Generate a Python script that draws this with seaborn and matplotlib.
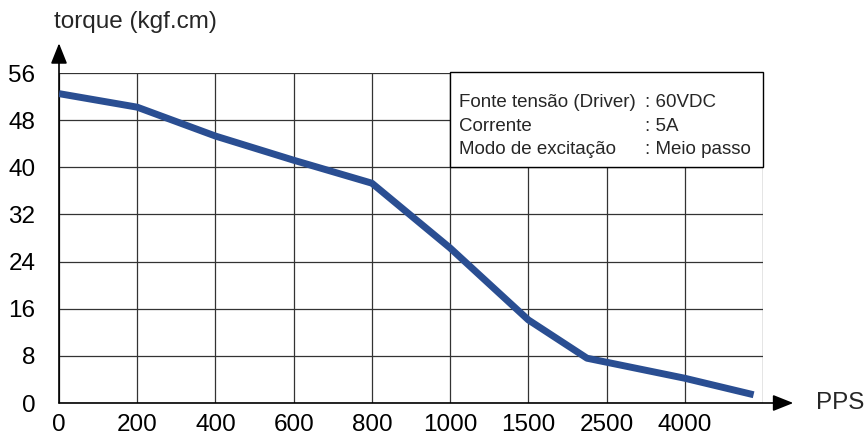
import matplotlib
matplotlib.use("Agg")
import matplotlib.pyplot as plt
from matplotlib.patches import Rectangle
import seaborn as sns

# dados (posição no eixo de categorias, torque)
x_pos = [0, 1, 2, 3, 4, 5, 6, 6.75, 8, 8.88]
torque = [52.5, 50.2, 45.3, 41.2, 37.3, 26.3, 14.1, 7.6, 4.2, 1.4]
pps_labels = ["0", "200", "400", "600", "800", "1000", "1500", "2500", "4000"]
y_ticks = [0, 8, 16, 24, 32, 40, 48, 56]
info_left = ["Fonte tensão (Driver)", "Corrente", "Modo de excitação"]
info_right = [": 60VDC", ": 5A", ": Meio passo"]

sns.set_style("white")
plt.rcParams['font.family'] = ['Liberation Sans', 'DejaVu Sans']

W, H = 865, 437
fig = plt.figure(figsize=(W / 100, H / 100), dpi=100)
ax = fig.add_axes([59 / W, (H - 403) / H, (763 - 59) / W, (403 - 73) / H])

sns.lineplot(x=x_pos, y=torque, ax=ax, color="#2a4e92", linewidth=5.0,
             zorder=5, solid_capstyle="butt")

ax.set_xlim(0, 9)
ax.set_ylim(0, 56)
ax.set_xticks(range(0, 9))
ax.set_xticklabels(pps_labels)
ax.set_yticks(y_ticks)
ax.tick_params(axis="both", which="both", length=0, labelsize=17.5, colors="black")
ax.tick_params(axis="y", pad=17)
ax.tick_params(axis="x", pad=8)
ax.grid(False)
for v in range(0, 10):
    ax.axvline(v, color="#333333", linewidth=0.9, zorder=1)
for v in y_ticks:
    ax.axhline(v, color="#333333", linewidth=0.9, zorder=1)
for s in ax.spines.values():
    s.set_visible(False)

# eixos com setas
arrow = dict(arrowstyle="-|>,head_length=1.25,head_width=0.5",
             color="black", lw=1.2, shrinkA=0, shrinkB=0)
ax.annotate("", xy=(1.043, 0), xytext=(0, 0), xycoords="axes fraction",
            arrowprops=arrow, annotation_clip=False)
ax.annotate("", xy=(0, 1.09), xytext=(0, 0), xycoords="axes fraction",
            arrowprops=arrow, annotation_clip=False)
fig.text(816 / W, 1 - 403 / H, "PPS", fontsize=17.5, va="center", ha="left")
fig.text(54 / W, 1 - 22 / H, "torque (kgf.cm)", fontsize=17.5, va="center", ha="left")

# caixa de informações
ax.add_patch(Rectangle((5, 40), 4, 16.2, facecolor="white", edgecolor="black",
                       linewidth=1.0, zorder=3, clip_on=False))
for i, (a, b) in enumerate(zip(info_left, info_right)):
    yy = 50.23 - i * 4.03
    ax.text(5.12, yy, a, fontsize=13.5, va="baseline", ha="left", zorder=4)
    ax.text(7.49, yy, b, fontsize=13.5, va="baseline", ha="left", zorder=4)

fig.savefig("out.png", dpi=100)
